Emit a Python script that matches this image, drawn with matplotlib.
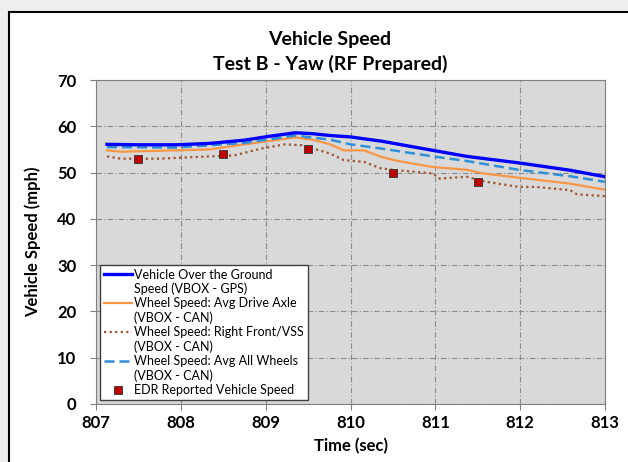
import numpy as np
import matplotlib.pyplot as plt
from matplotlib.lines import Line2D
from matplotlib.patches import Rectangle

plt.rcParams['font.family'] = ['Lato', 'DejaVu Sans']

# data
tGps = [807.13, 807.5, 807.94, 808.34, 808.75, 809.03, 809.35, 809.55, 809.76, 810.0,
        810.36, 810.97, 811.37, 811.98, 812.59, 813.0]
vGps = [56.1, 56.0, 56.0, 56.3, 57.0, 57.8, 58.6, 58.4, 58.0, 57.7,
        56.8, 54.8, 53.5, 52.1, 50.5, 49.1]

tAll = [807.13, 807.94, 808.75, 809.35, 809.76, 810.0, 810.36, 810.97, 811.37, 811.98, 812.59, 813.0]
vAll = [55.5, 55.4, 56.4, 58.0, 57.1, 56.1, 55.2, 53.5, 52.5, 50.6, 49.2, 48.0]

tAxle = [807.13, 807.29, 807.94, 808.34, 808.75, 809.03, 809.35, 809.55, 809.76, 809.92, 810.16,
         810.36, 810.56, 810.97, 811.37, 811.57, 811.98, 812.59, 813.0]
vAxle = [54.8, 54.5, 54.8, 55.0, 56.1, 56.8, 57.6, 57.1, 56.1, 54.8, 54.8,
         53.4, 52.5, 51.2, 50.6, 49.8, 48.9, 47.6, 46.3]

tRf = [807.13, 807.29, 807.74, 808.34, 808.63, 808.95, 809.23, 809.43, 809.76, 809.92, 810.16,
       810.36, 810.56, 810.97, 811.05, 811.37, 811.57, 811.98, 812.18, 812.59, 812.67, 813.0]
vRf = [53.5, 53.0, 53.0, 53.5, 53.7, 55.2, 56.1, 55.9, 54.1, 52.7, 52.3,
       50.9, 50.5, 49.8, 48.7, 49.1, 48.1, 46.9, 46.9, 46.2, 45.3, 44.9]

tEdr = [807.5, 808.5, 809.5, 810.5, 811.5]
vEdr = [53, 54, 55, 50, 48]

fig = plt.figure(figsize=(6.28, 4.62), dpi=100)
fig.patch.set_facecolor('#eeeeee')
# white chart frame
fig.patches.append(Rectangle((9/628, -0.1), 1.2, (462-12)/462 + 0.1, transform=fig.transFigure,
                             facecolor='white', edgecolor='black', linewidth=1.5, zorder=-1))

ax = fig.add_axes([96/628, 58/462, 509/628, 324/462])
ax.set_facecolor('#d9d9d9')

ax.plot(tGps, vGps, color='#0000ff', lw=2.4, zorder=4)
ax.plot(tAxle, vAxle, color='#f79646', lw=1.6, zorder=3)
ax.plot(tRf, vRf, color='#a0522d', lw=1.6, ls=(0, (1, 1.5)), zorder=3)
ax.plot(tAll, vAll, color='#2f8fd8', lw=1.8, ls=(0, (4, 2)), zorder=3)
ax.plot(tEdr, vEdr, ls='none', marker='s', ms=5.5, mfc='#c00000', mec='#404040', mew=0.7, zorder=5)

ax.set_xlim(807, 813)
ax.set_ylim(0, 70)
ax.set_xticks(np.arange(807, 814, 1))
ax.set_yticks(np.arange(0, 71, 10))
ax.grid(True, color='#8c8c8c', ls=(0, (5, 2, 1, 2)), lw=0.8)
ax.set_axisbelow(True)
for s in ax.spines.values():
    s.set_color('#808080')
ax.tick_params(axis='both', direction='out', length=4, color='#808080', labelsize=12)
for lbl in ax.get_xticklabels() + ax.get_yticklabels():
    lbl.set_fontweight('bold')
ax.tick_params(axis='x', pad=4)
ax.tick_params(axis='y', pad=10)

ax.set_xlabel('Time (sec)', fontsize=12, fontweight='bold', labelpad=5)
ax.set_ylabel('Vehicle Speed (mph)', fontsize=12, fontweight='bold', labelpad=12)
fig.text(330/628, 1 - 39/462, 'Vehicle Speed', ha='center', va='center', fontsize=14, fontweight='bold')
fig.text(330/628, 1 - 64/462, 'Test B - Yaw (RF Prepared)', ha='center', va='center', fontsize=14, fontweight='bold')

blank = Line2D([], [], ls='none')
handles = [Line2D([], [], color='#0000ff', lw=2.4), blank,
           Line2D([], [], color='#f79646', lw=1.6), blank,
           Line2D([], [], color='#a0522d', lw=1.6, ls=(0, (1, 1.5))), blank,
           Line2D([], [], color='#2f8fd8', lw=1.8, ls=(0, (4, 2))), blank,
           Line2D([], [], ls='none', marker='s', ms=5.5, mfc='#c00000', mec='#404040', mew=0.7)]
labels = ['Vehicle Over the Ground', 'Speed (VBOX - GPS)',
          'Wheel Speed: Avg Drive Axle', '(VBOX - CAN)',
          'Wheel Speed: Right Front/VSS', '(VBOX - CAN)',
          'Wheel Speed: Avg All Wheels', '(VBOX - CAN)',
          'EDR Reported Vehicle Speed']
leg = ax.legend(handles, labels, loc='lower left', bbox_to_anchor=(0.0, 0.0), fontsize=9,
                frameon=True, fancybox=False, framealpha=1, edgecolor='#404040',
                handlelength=2.2, handletextpad=0.2, labelspacing=0.17, borderpad=0.3,
                borderaxespad=0.35)
leg.get_frame().set_linewidth(1.0)

plt.savefig('out.png', dpi=100, facecolor=fig.get_facecolor())
